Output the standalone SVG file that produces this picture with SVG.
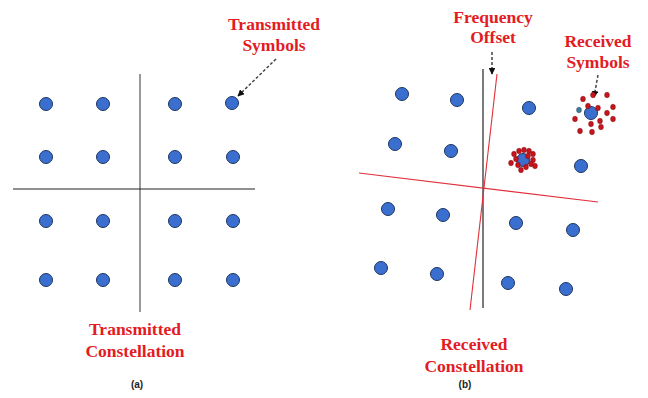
<svg xmlns="http://www.w3.org/2000/svg" width="648" height="398" viewBox="0 0 648 398">
<style>
.bg{fill:#ffffff}
.sym{fill:#3a6fd0;stroke:#1e3560;stroke-width:1}
.noise{fill:#c8141c;stroke:#7a0a0e;stroke-width:0.5}
.lbl{font-family:"Liberation Serif","Times New Roman",serif;font-weight:bold;font-size:17.5px;fill:#e31b23;text-anchor:middle}
.cap{font-family:"Liberation Sans",Arial,sans-serif;font-weight:bold;font-size:10px;fill:#222;text-anchor:middle}
.axis{stroke:#222;stroke-width:1.2;fill:none}
.axisg{stroke:#777;stroke-width:1.5;fill:none}
.rot{stroke:#e0303a;stroke-width:1.1;fill:none}
.ptr{stroke:#444;stroke-width:1.5;stroke-dasharray:3,2;fill:none;marker-end:url(#ah)}
</style>
<defs>
<marker id="ah" viewBox="0 0 10 10" refX="9" refY="5" markerWidth="4.5" markerHeight="4.5" orient="auto" markerUnits="strokeWidth">
<path d="M0,0 L10,5 L0,10 z" fill="#111"/>
</marker>
</defs>
<rect class="bg" x="0" y="0" width="648" height="398"/>

<g id="connectors">
<line class="axisg" x1="140" y1="74" x2="140" y2="312"/>
<line class="axis" x1="13" y1="189" x2="255" y2="189"/>
<line class="axis" x1="483" y1="69" x2="483" y2="308"/>
<line class="rot" x1="497" y1="74" x2="470" y2="310"/>
<line class="rot" x1="359" y1="173" x2="598" y2="202"/>
<line class="ptr" x1="276" y1="59" x2="238" y2="96"/>
<line class="ptr" x1="492" y1="52" x2="492" y2="74"/>
<line class="ptr" x1="598" y1="75" x2="594" y2="97"/>
</g>

<g id="transmitted-constellation">
<circle class="sym" cx="46" cy="104" r="6.5"/>
<circle class="sym" cx="103" cy="104" r="6.5"/>
<circle class="sym" cx="175" cy="104" r="6.5"/>
<circle class="sym" cx="232" cy="103" r="6.5"/>
<circle class="sym" cx="46" cy="157" r="6.5"/>
<circle class="sym" cx="103" cy="157" r="6.5"/>
<circle class="sym" cx="175" cy="157" r="6.5"/>
<circle class="sym" cx="233" cy="157" r="6.5"/>
<circle class="sym" cx="46" cy="221" r="6.5"/>
<circle class="sym" cx="103" cy="221" r="6.5"/>
<circle class="sym" cx="175" cy="221" r="6.5"/>
<circle class="sym" cx="233" cy="221" r="6.5"/>
<circle class="sym" cx="46" cy="280" r="6.5"/>
<circle class="sym" cx="103" cy="280" r="6.5"/>
<circle class="sym" cx="175" cy="280" r="6.5"/>
<circle class="sym" cx="233" cy="280" r="6.5"/>
</g>

<g id="received-constellation">
<circle class="sym" cx="402" cy="94" r="6.5"/>
<circle class="sym" cx="457" cy="100" r="6.5"/>
<circle class="sym" cx="529" cy="108" r="6.5"/>
<circle class="sym" cx="395" cy="144" r="6.5"/>
<circle class="sym" cx="451" cy="151" r="6.5"/>
<circle class="sym" cx="581" cy="166" r="6.5"/>
<circle class="sym" cx="388" cy="209" r="6.5"/>
<circle class="sym" cx="443" cy="215" r="6.5"/>
<circle class="sym" cx="516" cy="223" r="6.5"/>
<circle class="sym" cx="573" cy="230" r="6.5"/>
<circle class="sym" cx="381" cy="268" r="6.5"/>
<circle class="sym" cx="437" cy="274" r="6.5"/>
<circle class="sym" cx="508" cy="283" r="6.5"/>
<circle class="sym" cx="566" cy="289" r="6.5"/>
</g>

<g id="noise-cluster-1">
<circle class="sym" cx="523" cy="160" r="6.5"/>
<ellipse class="noise" cx="514" cy="154" rx="2.4" ry="2.8"/>
<ellipse class="noise" cx="519" cy="151" rx="2.4" ry="2.8"/>
<ellipse class="noise" cx="524" cy="150" rx="2.4" ry="2.8"/>
<ellipse class="noise" cx="529" cy="151" rx="2.4" ry="2.8"/>
<ellipse class="noise" cx="533" cy="154" rx="2.4" ry="2.8"/>
<ellipse class="noise" cx="516" cy="159" rx="2.4" ry="2.8"/>
<ellipse class="noise" cx="528" cy="156" rx="2.4" ry="2.8"/>
<ellipse class="noise" cx="533" cy="160" rx="2.4" ry="2.8"/>
<ellipse class="noise" cx="511" cy="163" rx="2.4" ry="2.8"/>
<ellipse class="noise" cx="518" cy="165" rx="2.4" ry="2.8"/>
<ellipse class="noise" cx="531" cy="164" rx="2.4" ry="2.8"/>
<ellipse class="noise" cx="535" cy="166" rx="2.4" ry="2.8"/>
<ellipse class="noise" cx="526" cy="167" rx="2.4" ry="2.8"/>
<ellipse class="noise" cx="521" cy="170" rx="2.4" ry="2.8"/>
</g>

<g id="noise-cluster-2">
<circle class="sym" cx="591" cy="113" r="6.5"/>
<ellipse class="noise" cx="583" cy="99" rx="2.4" ry="2.8"/>
<ellipse class="noise" cx="593" cy="95" rx="2.4" ry="2.8"/>
<ellipse class="noise" cx="607" cy="95" rx="2.4" ry="2.8"/>
<ellipse class="noise" cx="588" cy="106" rx="2.4" ry="2.8"/>
<ellipse class="noise" cx="598" cy="108" rx="2.4" ry="2.8"/>
<ellipse class="noise" cx="613" cy="107" rx="2.4" ry="2.8"/>
<ellipse cx="579" cy="110" rx="2.4" ry="2.8" fill="#3a7f9a" stroke="#1e3560" stroke-width="0.5"/>
<ellipse class="noise" cx="607" cy="113" rx="2.4" ry="2.8"/>
<ellipse class="noise" cx="575" cy="119" rx="2.4" ry="2.8"/>
<ellipse class="noise" cx="591" cy="124" rx="2.4" ry="2.8"/>
<ellipse class="noise" cx="600" cy="121" rx="2.4" ry="2.8"/>
<ellipse class="noise" cx="601" cy="127" rx="2.4" ry="2.8"/>
<ellipse class="noise" cx="613" cy="119" rx="2.4" ry="2.8"/>
<ellipse class="noise" cx="580" cy="131" rx="2.4" ry="2.8"/>
<ellipse class="noise" cx="592" cy="132" rx="2.4" ry="2.8"/>
</g>

<g id="label-transmitted-symbols">
<text class="lbl" x="274" y="30">Transmitted</text>
<text class="lbl" x="274" y="51">Symbols</text>
</g>
<g id="label-transmitted-constellation">
<text class="lbl" x="135" y="335">Transmitted</text>
<text class="lbl" x="135" y="357">Constellation</text>
</g>
<g id="label-frequency-offset">
<text class="lbl" x="493" y="23">Frequency</text>
<text class="lbl" x="493" y="43">Offset</text>
</g>
<g id="label-received-symbols">
<text class="lbl" x="598" y="47">Received</text>
<text class="lbl" x="598" y="68">Symbols</text>
</g>
<g id="label-received-constellation">
<text class="lbl" x="474" y="350">Received</text>
<text class="lbl" x="474" y="372">Constellation</text>
</g>
<g id="caption-a"><text class="cap" x="137" y="388">(a)</text></g>
<g id="caption-b"><text class="cap" x="465" y="388">(b)</text></g>
</svg>
